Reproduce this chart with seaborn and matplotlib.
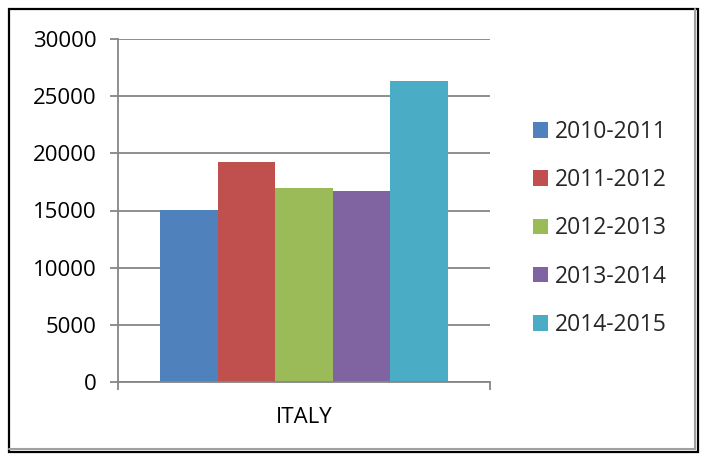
import matplotlib

matplotlib.use("Agg")

import matplotlib.pyplot as plt
from matplotlib.lines import Line2D
from matplotlib.patches import Rectangle
import pandas as pd
import seaborn as sns

# Data
countries = ["ITALY"]
periods = ["2010-2011", "2011-2012", "2012-2013", "2013-2014", "2014-2015"]
values = [15050, 19250, 16950, 16700, 26300]
colors = ["#4F81BD", "#C0504D", "#9BBB59", "#8064A2", "#4BACC6"]
y_ticks = [0, 5000, 10000, 15000, 20000, 25000, 30000]

GRID = "#868686"
W, H = 704, 457

sns.set_theme(style="white")
plt.rcParams["font.family"] = ["Open Sans", "DejaVu Sans"]

df = pd.DataFrame({
    "country": countries * len(periods),
    "period": periods,
    "value": values,
})

fig = plt.figure(figsize=(W / 100, H / 100), dpi=100)
ax = fig.add_axes([118 / W, 1 - 382 / H, (490 - 118) / W, (382 - 39) / H])

sns.barplot(data=df, x="country", y="value", hue="period", palette=colors,
            width=0.772, gap=0, saturation=1, linewidth=0, ax=ax)

ax.set_xlim(-0.5, 0.5)
ax.set_ylim(0, 30000)
ax.set_yticks(y_ticks)
ax.set_xlabel("")
ax.set_ylabel("")
ax.set_axisbelow(True)
ax.yaxis.grid(True, color=GRID, linewidth=1.3)
ax.xaxis.grid(False)

for side in ("top", "right"):
    ax.spines[side].set_visible(False)
for side in ("left", "bottom"):
    ax.spines[side].set_color(GRID)
    ax.spines[side].set_linewidth(1.3)

ax.tick_params(axis="y", direction="out", length=5.5, width=1.3, color=GRID,
               labelsize=16, labelcolor="black", pad=10, left=True)
ax.tick_params(axis="x", which="major", length=0, labelsize=16,
               labelcolor="black", pad=18)
ax.set_xticks([-0.5, 0.5], minor=True)
ax.tick_params(axis="x", which="minor", direction="out", length=6, width=1.3,
               color=GRID, bottom=True)

# Legend to the right, no frame
leg = ax.get_legend()
handles = leg.legend_handles
labels = [t.get_text() for t in leg.get_texts()]
leg.remove()
fig.legend(handles, labels, loc="center left", bbox_to_anchor=(533 / W, 1 - 228.5 / H),
           frameon=False, fontsize=16.5, borderpad=0, borderaxespad=0,
           handlelength=0.66, handleheight=0.66, handletextpad=0.3,
           labelspacing=1.06)

# Outer chart border with a light inner shadow line
fig.add_artist(Line2D([9 / W, 695 / W], [1 - 449 / H, 1 - 449 / H],
                      transform=fig.transFigure, color="#A0A0A0", linewidth=1.5))
fig.add_artist(Line2D([695 / W, 695 / W], [1 - 9 / H, 1 - 449 / H],
                      transform=fig.transFigure, color="#A0A0A0", linewidth=1.5))
fig.add_artist(Rectangle((9 / W, 1 - 452 / H), 689 / W, 443 / H,
                         transform=fig.transFigure, fill=False,
                         edgecolor="black", linewidth=1.6))

fig.savefig("out.png", dpi=100)
